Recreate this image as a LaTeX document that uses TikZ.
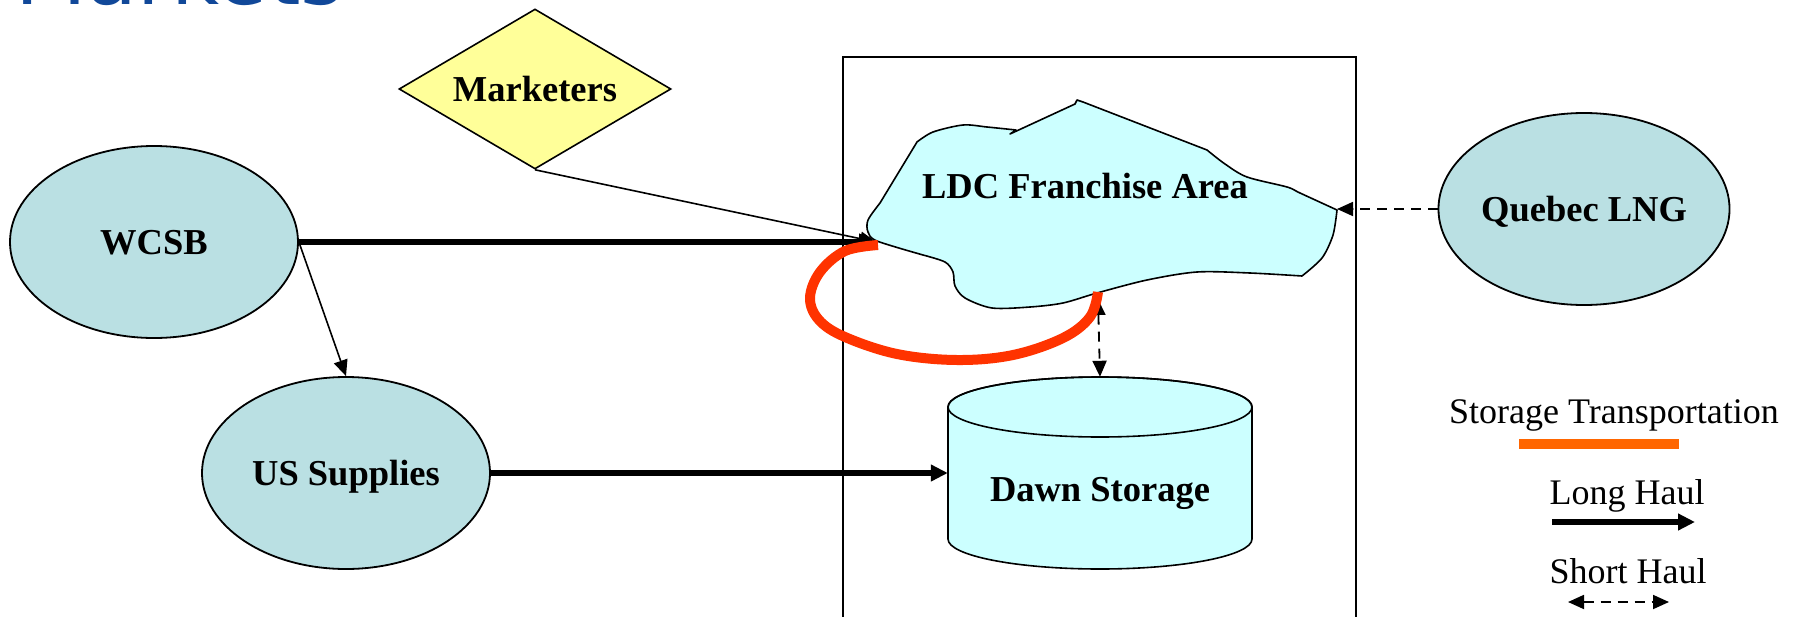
\documentclass[tikz,border=0pt]{standalone}
\usepackage{fontspec}
\setmainfont{Liberation Serif}
\newfontfamily\titlefont{DejaVu Sans}
\usetikzlibrary{shapes.geometric,arrows.meta}
\definecolor{ellfill}{RGB}{186,224,227}
\definecolor{cyanfill}{RGB}{204,255,255}
\definecolor{yelfill}{RGB}{255,255,153}
\definecolor{loopred}{RGB}{255,51,0}
\definecolor{legorange}{RGB}{255,102,0}
\definecolor{titleblue}{RGB}{17,72,153}
\begin{document}
\begin{tikzpicture}[x=1pt,y=-1pt,
  lbl/.style={font=\fontsize{36.5pt}{40pt}\selectfont\bfseries, text height=24pt, text depth=0pt, inner sep=0pt},
  leg/.style={font=\fontsize{36pt}{40pt}\selectfont, inner sep=0pt, anchor=base},
  src/.style={ellipse, draw, line width=1.8pt, fill=ellfill, minimum width=288pt, minimum height=192pt, inner sep=0pt, lbl},
  mkt/.style={diamond, draw, line width=1.6pt, fill=yelfill, minimum width=272pt, minimum height=160pt, aspect=2, inner sep=0pt, lbl},
  cyl/.style={fill=cyanfill, draw, line width=1.6pt},
  cloudst/.style={fill=cyanfill, draw, line width=1.6pt, line join=round},
  tipA/.style={-{Triangle[length=16pt,width=14pt]}},
  tipB/.style={{Triangle[length=16pt,width=14pt]}-{Triangle[length=16pt,width=14pt]}},
  longhaul/.style={line width=5.5pt, -{Triangle[length=17pt,width=16pt]}},
  thinarrow/.style={line width=1.6pt, tipA},
  dashedarrow/.style={line width=1.8pt, dash pattern=on 10pt off 7pt, tipA},
  dasheddouble/.style={line width=1.8pt, dash pattern=on 10pt off 7pt, tipB},
  storageline/.style={line width=10pt, loopred},
]
\useasboundingbox (0,0) rectangle (1797,616);
\clip (0,0) rectangle (1797,616);

% title (cut off at top)
\node[anchor=base west, inner sep=0pt, font=\titlefont\fontsize{83pt}{90pt}\selectfont, text=titleblue] (title) at (15,4) {Markets};

% franchise box
\draw[line width=1.8pt] (843,57) rectangle (1356,660);

% LDC cloud
\filldraw[cloudst] plot[smooth, tension=0.5] coordinates {(923,255) (877,241) (868,232) (868,220) (880,203)}
  -- (917,142)
  -- plot[smooth, tension=0.5] coordinates {(917,142) (933,132) (963,125) (987,127) (1016,130)}
  -- (1010,134) -- (1075,104) -- (1077,100) -- (1083,102) -- (1207,150)
  -- plot[smooth, tension=0.5] coordinates {(1207,150) (1225,164) (1247,177) (1287,187) (1300,193) (1337,210)}
  -- plot[smooth, tension=0.5] coordinates {(1337,210) (1333,235) (1322,258) (1302,276)}
  -- plot[smooth, tension=0.5] coordinates {(1302,276) (1250,273) (1197,272) (1147,280) (1097,293) (1063,303) (1030,307) (992,308) (965,298) (955,286) (953,272) (945,262) (923,255)}
  -- cycle;
\node[lbl] (ldc) at (1085,186) {LDC Franchise Area};
\coordinate (ldcw) at (876,242);
\coordinate (ldce) at (1337,209);
\coordinate (ldcs) at (1098,299);
\coordinate (loopa) at (878,245);
\coordinate (loopb) at (1098,292);

% Dawn storage cylinder
\filldraw[cyl] (948,407) -- (948,539)
  arc[start angle=180, end angle=360, x radius=152pt, y radius=30pt]
  -- (1252,407)
  arc[start angle=0, end angle=180, x radius=152pt, y radius=30pt] -- cycle;
\draw[line width=1.6pt] (1100,407) ellipse[x radius=152pt, y radius=30pt];
\node[minimum width=304pt, minimum height=192pt, inner sep=0pt] (dawn) at (1100,473) {};
\node[lbl] (dawnlbl) at (1100,489) {Dawn Storage};

% supply nodes
\node[src] (wcsb) at (154,242) {WCSB};
\node[src] (us) at (346,473) {US Supplies};
\node[src] (qlng) at (1584,209) {Quebec LNG};
\node[mkt] (mk) at (535,89) {Marketers};

% connectors
\draw[thinarrow] (wcsb.east) -- (us.north);
\draw[thinarrow] (mk.south) -- (ldcw);
\draw[longhaul] (wcsb.east) -- (ldcw);
\draw[longhaul] (us.east) -- (dawn.west);
\draw[dashedarrow] (qlng.west) -- (ldce);
\draw[dasheddouble] (ldcs) -- (dawn.north);

% storage transportation loop
\draw[storageline] plot[smooth, tension=0.6] coordinates {(loopa) (845,251) (820,272) (810,298) (819,320) (845,337) (897,354) (957,360) (1013,355) (1063,338) (1090,317) (loopb)};

% legend
\node[leg] (legst) at (1614,423) {Storage Transportation};
\coordinate (stA) at (1519,444);
\coordinate (stB) at (1679,444);
\draw[legorange, line width=10pt] (stA) -- (stB);
\node[leg] (leglh) at (1627,504) {Long Haul};
\coordinate (lhA) at (1552,522);
\coordinate (lhB) at (1695,522);
\draw[longhaul] (lhA) -- (lhB);
\node[leg] (legsh) at (1628,583) {Short Haul};
\coordinate (shA) at (1568,602);
\coordinate (shB) at (1669,602);
\draw[dasheddouble] (shA) -- (shB);
\end{tikzpicture}
\end{document}
